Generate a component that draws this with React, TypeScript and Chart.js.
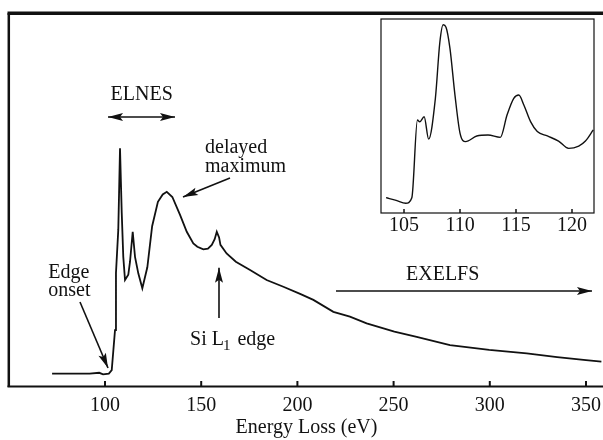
import React, { useEffect, useRef } from "react";
import { Chart, registerables } from "chart.js";

Chart.register(...registerables);

// ---------- data ----------
const mainEnergy = [
  72.5, 85, 92, 97, 99, 102, 103.5, 105.2, 105.7, 106.9, 107.8, 108.7, 109.5,
  110.4, 112.1, 113, 114.4, 115.6, 117.3, 119.4, 122, 124.5, 127.5, 130, 132.1,
  135, 139, 142.5, 145.9, 148, 151.1, 153.5, 155.5, 157, 158.1, 159.3, 160,
  163.2, 168, 175.4, 184, 192.7, 201.4, 208.3, 218.7, 227.3, 236, 250.4, 262,
  279.3, 299.7, 319.2, 335, 350, 358,
];
const mainIntensity = [
  3.6, 3.6, 3.6, 3.8, 3.4, 3.6, 4.5, 15.2, 30.5, 42, 63.8, 46.5, 34.8, 28.6,
  30, 33.5, 41.5, 34.8, 30.4, 26.4, 32, 43, 49.5, 51.5, 52.2, 50.8, 46, 41.5,
  38.4, 37.5, 36.8, 37, 38, 39.5, 41.5, 40, 38, 35.7, 33.5, 31.3, 28.6, 26.8,
  24.9, 23.3, 20.1, 18.8, 17, 14.8, 13.4, 11.2, 9.9, 9, 8, 7.2, 6.8,
];
const mainTicks = [100, 150, 200, 250, 300, 350];

const insetEnergy = [
  103.4, 104.3, 105.15, 105.7, 106.2, 106.4, 106.8, 107.2, 107.8, 108.2, 108.5,
  108.75, 109.1, 109.55, 110, 110.5, 111.5, 112.5, 113.6, 114.2, 114.8, 115.25,
  115.7, 116.3, 116.9, 117.8, 118.8, 119.7, 120.6, 121.2, 121.9,
];
const insetIntensity = [
  7.9, 6.5, 5.0, 7.9, 47.9, 47, 49.6, 38.1, 59, 88, 97, 95.8, 85, 60.8, 41.2,
  36.8, 39.7, 40.2, 39, 50.5, 59.1, 60.8, 55.7, 47.1, 42, 39.7, 37.1, 33.3,
  34.5, 37.1, 42.8,
];
const insetTicks = [105, 110, 115, 120];

const xTitle = "Energy Loss (eV)";

// annotation anchors in data coordinates [eV, intensity]
const notes = {
  elnes: { text: "ELNES", x: 119.07, y: 76.74, ax1: 101.56, ax2: 136.38, ay: 72.19 },
  delayed: { lines: ["delayed", "maximum"], x: 151.98, y1: 62.49, y2: 57.57, from: [164.97, 55.88], to: [140.54, 50.8] },
  edge: { lines: ["Edge", "onset"], x: 70.53, y1: 29.06, y2: 24.33, from: [87.0, 22.73], to: [101.56, 5.08] },
  si: { x: 159.25, yTail: 18.45, yTip: 31.9, textX: 144.18, textY: 11.23 },
  exelfs: { text: "EXELFS", x: 275.52, y: 28.61, ax1: 220.06, ax2: 353.12, ay: 25.67 },
};

const FONT = '20px "Liberation Serif", "Times New Roman", serif';
const INK = "#111";

function head(ctx: CanvasRenderingContext2D, x1: number, y1: number, x2: number, y2: number, len = 15, half = 4) {
  const a = Math.atan2(y2 - y1, x2 - x1);
  const c = Math.cos(a), s = Math.sin(a);
  ctx.beginPath();
  ctx.moveTo(x2, y2);
  ctx.lineTo(x2 - len * c + half * s, y2 - len * s - half * c);
  ctx.lineTo(x2 - len * 0.8 * c, y2 - len * 0.8 * s);
  ctx.lineTo(x2 - len * c - half * s, y2 - len * s + half * c);
  ctx.closePath();
  ctx.fill();
}

function arrow(ctx: CanvasRenderingContext2D, x1: number, y1: number, x2: number, y2: number, both = false) {
  ctx.beginPath();
  ctx.moveTo(x1, y1);
  ctx.lineTo(x2, y2);
  ctx.stroke();
  head(ctx, x1, y1, x2, y2);
  if (both) head(ctx, x2, y2, x1, y1);
}

const mainDecor = {
  id: "mainDecor",
  afterDraw(chart: any) {
    const { ctx, chartArea: a, scales } = chart;
    const x = scales.x, y = scales.y;
    const W = chart.width;
    ctx.save();
    ctx.strokeStyle = INK;
    ctx.fillStyle = INK;
    // frame
    ctx.lineWidth = 3.5;
    ctx.beginPath();
    ctx.moveTo(a.left - 2.5, a.top + 0.3);
    ctx.lineTo(W, a.top + 0.3);
    ctx.stroke();
    ctx.lineWidth = 2.5;
    ctx.beginPath();
    ctx.moveTo(a.left - 1.2, a.top);
    ctx.lineTo(a.left - 1.2, a.bottom);
    ctx.stroke();
    ctx.lineWidth = 2;
    ctx.beginPath();
    ctx.moveTo(a.left - 2.5, a.bottom - 0.5);
    ctx.lineTo(W, a.bottom - 0.5);
    ctx.stroke();
    // inward ticks
    ctx.lineWidth = 2;
    for (const t of mainTicks) {
      const px = x.getPixelForValue(t);
      ctx.beginPath();
      ctx.moveTo(px, a.bottom);
      ctx.lineTo(px, a.bottom - 6);
      ctx.stroke();
    }
    // annotations
    ctx.lineWidth = 1.6;
    ctx.font = FONT;
    ctx.textBaseline = "alphabetic";
    const X = (v: number) => x.getPixelForValue(v);
    const Y = (v: number) => y.getPixelForValue(v);

    const e = notes.elnes;
    ctx.textAlign = "center";
    ctx.fillText(e.text, X(e.x), Y(e.y));
    arrow(ctx, X(e.ax1), Y(e.ay), X(e.ax2), Y(e.ay), true);

    const d = notes.delayed;
    ctx.textAlign = "left";
    ctx.fillText(d.lines[0], X(d.x), Y(d.y1));
    ctx.fillText(d.lines[1], X(d.x), Y(d.y2));
    arrow(ctx, X(d.from[0]), Y(d.from[1]), X(d.to[0]), Y(d.to[1]));

    const g = notes.edge;
    ctx.fillText(g.lines[0], X(g.x), Y(g.y1));
    ctx.fillText(g.lines[1], X(g.x), Y(g.y2));
    arrow(ctx, X(g.from[0]), Y(g.from[1]), X(g.to[0]), Y(g.to[1]));

    const s = notes.si;
    arrow(ctx, X(s.x), Y(s.yTail), X(s.x), Y(s.yTip));
    let tx = X(s.textX);
    const ty = Y(s.textY);
    ctx.fillText("Si L", tx, ty);
    tx += ctx.measureText("Si L").width - 1;
    ctx.font = '15px "Liberation Serif", "Times New Roman", serif';
    ctx.fillText("1", tx, ty + 5);
    tx += ctx.measureText("1").width + 2;
    ctx.font = FONT;
    ctx.fillText(" edge", tx, ty);

    const x2 = notes.exelfs;
    ctx.textAlign = "center";
    ctx.fillText(x2.text, X(x2.x), Y(x2.y));
    arrow(ctx, X(x2.ax1), Y(x2.ay), X(x2.ax2), Y(x2.ay));
    ctx.restore();
  },
};

const insetDecor = {
  id: "insetDecor",
  beforeDatasetsDraw(chart: any) {
    const { ctx, chartArea: a, scales } = chart;
    ctx.save();
    ctx.fillStyle = "#fff";
    ctx.fillRect(a.left, a.top, a.right - a.left, a.bottom - a.top);
    ctx.strokeStyle = INK;
    ctx.lineWidth = 1.2;
    ctx.strokeRect(a.left, a.top, a.right - a.left, a.bottom - a.top);
    ctx.lineWidth = 1.5;
    for (const t of insetTicks) {
      const px = scales.x.getPixelForValue(t);
      ctx.beginPath();
      ctx.moveTo(px, a.bottom);
      ctx.lineTo(px, a.bottom - 4);
      ctx.stroke();
    }
    ctx.restore();
  },
};

function MainChart() {
  const ref = useRef<HTMLCanvasElement>(null);
  useEffect(() => {
    const chart = new Chart(ref.current!, {
      type: "line",
      data: {
        datasets: [
          {
            data: mainEnergy.map((e, i) => ({ x: e, y: mainIntensity[i] })),
            borderColor: INK,
            borderWidth: 1.8,
            pointRadius: 0,
            tension: 0,
            fill: false,
          },
        ],
      },
      options: {
        animation: false,
        responsive: false,
        devicePixelRatio: 1,
        events: [],
        layout: { padding: { left: 10, right: 0, top: 13, bottom: 0 } },
        plugins: { legend: { display: false }, tooltip: { enabled: false } },
        scales: {
          x: {
            type: "linear",
            min: 50.62,
            max: 358.84,
            grid: { display: false },
            border: { display: false },
            afterBuildTicks: (sc: any) => {
              sc.ticks = mainTicks.map((v) => ({ value: v }));
            },
            afterFit: (sc: any) => {
              sc.height = 53;
            },
            ticks: {
              autoSkip: false,
              maxRotation: 0,
              padding: -1,
              color: INK,
              font: { family: '"Liberation Serif", serif', size: 20, lineHeight: 1.2 },
              callback: (v: any) => String(v),
            },
            title: {
              display: true,
              text: xTitle,
              color: INK,
              font: { family: '"Liberation Serif", serif', size: 20, lineHeight: 1.2 },
              padding: { top: 0, bottom: 0 },
            },
          },
          y: { display: false, min: 0, max: 100 },
        },
      },
      plugins: [mainDecor],
    });
    return () => chart.destroy();
  }, []);
  return <canvas ref={ref} width={603} height={440} style={{ position: "absolute", left: 0, top: 0 }} />;
}

function InsetChart() {
  const ref = useRef<HTMLCanvasElement>(null);
  useEffect(() => {
    const chart = new Chart(ref.current!, {
      type: "line",
      data: {
        datasets: [
          {
            data: insetEnergy.map((e, i) => ({ x: e, y: insetIntensity[i] })),
            borderColor: INK,
            borderWidth: 1.4,
            pointRadius: 0,
            cubicInterpolationMode: "monotone",
            fill: false,
          },
        ],
      },
      options: {
        animation: false,
        responsive: false,
        devicePixelRatio: 1,
        events: [],
        layout: { padding: { left: 10, right: 9, top: 4, bottom: 0 } },
        plugins: { legend: { display: false }, tooltip: { enabled: false } },
        scales: {
          x: {
            type: "linear",
            min: 102.946,
            max: 121.964,
            grid: { display: false },
            border: { display: false },
            afterBuildTicks: (sc: any) => {
              sc.ticks = insetTicks.map((v) => ({ value: v }));
            },
            afterFit: (sc: any) => {
              sc.height = 27;
            },
            ticks: {
              autoSkip: false,
              maxRotation: 0,
              padding: -5,
              color: INK,
              font: { family: '"Liberation Serif", serif', size: 20, lineHeight: 1 },
              callback: (v: any) => String(v),
            },
          },
          y: { display: false, min: 0, max: 100 },
        },
      },
      plugins: [insetDecor],
    });
    return () => chart.destroy();
  }, []);
  return <canvas ref={ref} width={232} height={225} style={{ position: "absolute", left: 371, top: 15 }} />;
}

export default function App() {
  return (
    <div style={{ position: "fixed", left: 0, top: 0, width: 603, height: 440, background: "#fff" }}>
      <MainChart />
      <InsetChart />
    </div>
  );
}
